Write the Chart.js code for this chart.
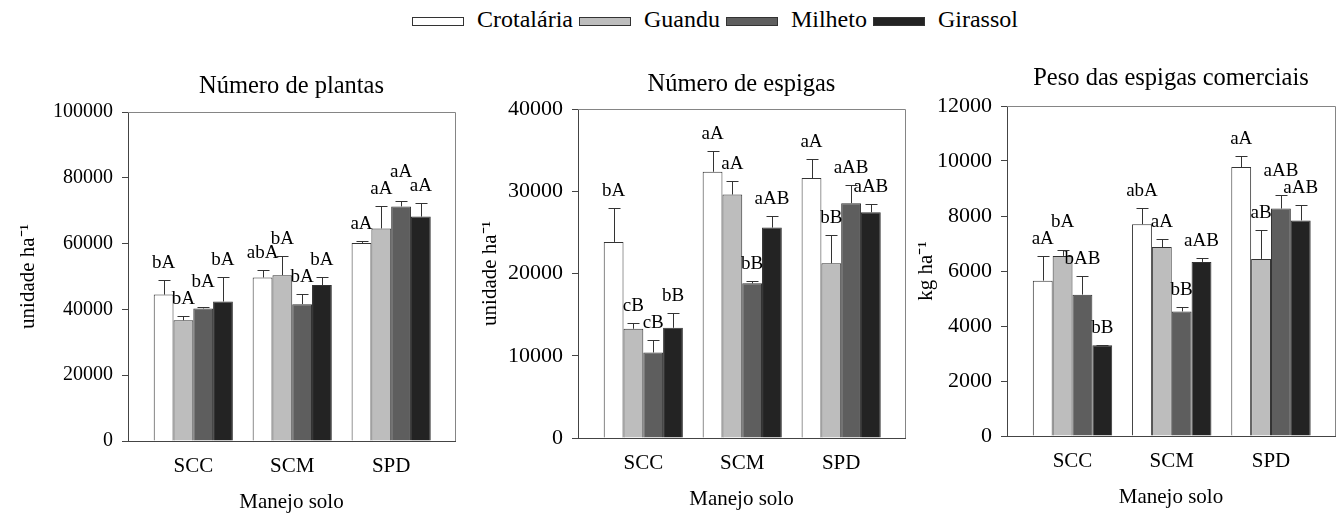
<!DOCTYPE html>
<html>
<head>
<meta charset="utf-8">
<script src="https://cdn.jsdelivr.net/npm/chart.js@4.4.0/dist/chart.umd.min.js"></script>
<style>
  body { margin: 0; background: #fff; width: 1341px; height: 516px; position: relative; overflow: hidden;
         font-family: "Liberation Serif", "Times New Roman", serif; }
  .legend { position: absolute; left: 412px; top: 6px; display: flex; align-items: center; font-size: 24px; color: #000; white-space: nowrap; }
  .legend .item { display: flex; align-items: center; margin-right: 6px; }
  .legend .sw { width: 50px; height: 7px; border: 1px solid #333; margin-right: 13px; margin-top: 3px; }
  canvas { position: absolute; }
</style>
</head>
<body>
<div class="legend" id="legend"></div>
<canvas id="c1"></canvas>
<canvas id="c2"></canvas>
<canvas id="c3"></canvas>
<script>
const categories = ['SCC', 'SCM', 'SPD'];
const series = ['Crotalária', 'Guandu', 'Milheto', 'Girassol'];
const seriesColors = ['#ffffff', '#bdbdbd', '#5e5e5e', '#232323'];

// Número de plantas (rows = series, cols = categories)
const plantasMean = [
  [44500, 49700, 60200],
  [36700, 50400, 64600],
  [40300, 41600, 71300],
  [42400, 47400, 68200]
];
const plantasErr = [
  [4300, 2300, 500],
  [1400, 5700, 6900],
  [500, 3200, 1800],
  [7600, 2500, 4200]
];
const plantasLetters = [
  ['bA', 'abA', 'aA'],
  ['bA', 'bA', 'aA'],
  ['bA', 'bA', 'aA'],
  ['bA', 'bA', 'aA']
];
const plantasTicks = [0, 20000, 40000, 60000, 80000, 100000];

// Número de espigas
const espigasMean = [
  [23840, 32370, 31600],
  [13280, 29600, 21240],
  [10400, 18800, 28550],
  [13400, 25580, 27450]
];
const espigasErr = [
  [4100, 2470, 2300],
  [720, 1590, 3490],
  [1500, 290, 2190],
  [1750, 1420, 1020]
];
const espigasLetters = [
  ['bA', 'aA', 'aA'],
  ['cB', 'aA', 'bB'],
  ['cB', 'bB', 'aAB'],
  ['bB', 'aAB', 'aAB']
];
const espigasTicks = [0, 10000, 20000, 30000, 40000];

// Peso das espigas comerciais
const pesoMean = [
  [5650, 7700, 9780],
  [6550, 6870, 6440],
  [5140, 4530, 8270],
  [3300, 6330, 7840]
];
const pesoErr = [
  [880, 590, 400],
  [230, 280, 1060],
  [680, 160, 480],
  [20, 140, 570]
];
const pesoLetters = [
  ['aA', 'abA', 'aA'],
  ['bA', 'aA', 'aB'],
  ['bAB', 'bB', 'aAB'],
  ['bB', 'aAB', 'aAB']
];
const pesoTicks = [0, 2000, 4000, 6000, 8000, 10000, 12000];

const FONT = '"Liberation Serif", "Times New Roman", serif';
Chart.defaults.font.family = FONT;
Chart.defaults.color = '#000';

// html legend
const legendEl = document.getElementById('legend');
series.forEach((name, i) => {
  const item = document.createElement('div');
  item.className = 'item';
  const sw = document.createElement('div');
  sw.className = 'sw';
  sw.style.background = seriesColors[i];
  const txt = document.createElement('span');
  txt.textContent = name;
  item.appendChild(sw);
  item.appendChild(txt);
  legendEl.appendChild(item);
});

// error bars + significance letters
const errorBars = {
  id: 'errorBars',
  afterDatasetsDraw(chart) {
    const ctx = chart.ctx;
    const yScale = chart.scales.y;
    const area = chart.chartArea;
    ctx.save();
    ctx.strokeStyle = '#333';
    ctx.lineWidth = 1;
    const tops = [];
    chart.data.datasets.forEach((ds, di) => {
      const meta = chart.getDatasetMeta(di);
      tops[di] = [];
      meta.data.forEach((bar, i) => {
        const x = Math.round(bar.x) + 0.5;
        const yBar = yScale.getPixelForValue(ds.data[i].y);
        const yTop = yScale.getPixelForValue(ds.data[i].y + ds.err[i]);
        tops[di][i] = { x: bar.x, y: yTop };
        ctx.beginPath();
        ctx.moveTo(x, yBar);
        ctx.lineTo(x, Math.round(yTop) + 0.5);
        ctx.moveTo(x - 6, Math.round(yTop) + 0.5);
        ctx.lineTo(x + 6, Math.round(yTop) + 0.5);
        ctx.stroke();
      });
    });

    // frame (top and right)
    ctx.strokeStyle = '#858585';
    ctx.beginPath();
    ctx.moveTo(area.left, Math.round(area.top) + 0.5);
    ctx.lineTo(Math.round(area.right) + 0.5, Math.round(area.top) + 0.5);
    ctx.lineTo(Math.round(area.right) + 0.5, area.bottom);
    ctx.stroke();

    // letters: lowest first, higher ones pushed up when they collide
    ctx.font = '19px ' + FONT;
    ctx.fillStyle = '#000';
    ctx.textAlign = 'center';
    ctx.textBaseline = 'alphabetic';
    const H = 13;
    const nCat = chart.data.datasets[0].data.length;
    for (let i = 0; i < nCat; i++) {
      const items = chart.data.datasets.map((ds, di) => {
        const text = ds.letters[i];
        const w = ctx.measureText(text).width;
        const p = tops[di][i];
        return { text, x: p.x, w, yb: p.y - 12 };
      });
      items.sort((a, b) => b.yb - a.yb);
      const placed = [];
      items.forEach(it => {
        let moved = true;
        while (moved) {
          moved = false;
          for (const q of placed) {
            const l = it.x - it.w / 2, r = it.x + it.w / 2, t = it.yb - H;
            if (l < q.r && r > q.l && t < q.b && it.yb > q.t) {
              it.yb = q.t - 4;
              moved = true;
            }
          }
        }
        placed.push({ l: it.x - it.w / 2, r: it.x + it.w / 2, t: it.yb - H, b: it.yb });
        ctx.fillText(it.text, it.x, it.yb);
      });
    }
    ctx.restore();
  }
};

function makePanel(id, cfg) {
  const cv = document.getElementById(id);
  cv.width = cfg.w; cv.height = cfg.h;
  cv.style.left = cfg.left + 'px';
  cv.style.top = cfg.top + 'px';
  const datasets = series.map((name, si) => ({
    label: name,
    data: categories.map((c, ci) => ({ x: ci, y: cfg.mean[si][ci] })),
    err: cfg.err[si],
    letters: cfg.letters[si],
    backgroundColor: seriesColors[si],
    borderColor: '#333',
    borderWidth: 1,
    barPercentage: 1,
    categoryPercentage: 0.8
  }));
  return new Chart(cv, {
    type: 'bar',
    data: { datasets },
    options: {
      responsive: false,
      animation: false,
      layout: { padding: { left: 0, right: cfg.padRight, top: 0, bottom: 0 } },
      plugins: {
        legend: { display: false },
        tooltip: { enabled: false },
        title: {
          display: true,
          text: cfg.title,
          fullSize: false,
          color: '#000',
          font: { size: 24.5, weight: 'normal' },
          padding: { top: 6, bottom: cfg.titleGap }
        }
      },
      scales: {
        x: {
          type: 'linear',
          min: -0.66,
          max: 2.645,
          offset: false,
          grid: { display: false, drawTicks: false },
          border: { color: '#444', width: 1 },
          afterBuildTicks: s => { s.ticks = categories.map((c, i) => ({ value: i })); },
          afterFit: s => { s.height = 75; },
          ticks: {
            autoSkip: false,
            maxRotation: 0,
            padding: 12.4,
            color: '#000',
            font: { size: 21 },
            callback: v => categories[v] ?? ''
          },
          title: {
            display: true,
            text: 'Manejo solo',
            color: '#000',
            font: { size: 21 },
            padding: { top: 0, bottom: 1.4 }
          }
        },
        y: {
          min: 0,
          max: cfg.ticks[cfg.ticks.length - 1],
          afterBuildTicks: s => { s.ticks = cfg.ticks.map(v => ({ value: v })); },
          afterFit: s => { s.width = cfg.yWidth; },
          grid: { drawOnChartArea: false, drawTicks: true, tickLength: 6, color: '#444' },
          border: { color: '#444', width: 1 },
          ticks: {
            padding: 9,
            color: '#000',
            font: { size: cfg.tickSize },
            callback: v => String(v)
          },
          title: {
            display: true,
            text: cfg.yTitle,
            color: '#000',
            font: { size: 21 },
            padding: { top: 4, bottom: 0 }
          }
        }
      }
    },
    plugins: [errorBars]
  });
}

makePanel('c1', {
  left: 12, top: 66, w: 451, h: 450, padRight: 8, yWidth: 116, titleGap: 10.6, tickSize: 20,
  title: 'Número de plantas', yTitle: 'unidade ha⁻¹',
  mean: plantasMean, err: plantasErr, letters: plantasLetters, ticks: plantasTicks
});
makePanel('c2', {
  left: 474, top: 64, w: 436, h: 449, padRight: 5, yWidth: 104, titleGap: 9.6, tickSize: 22,
  title: 'Número de espigas', yTitle: 'unidade ha⁻¹',
  mean: espigasMean, err: espigasErr, letters: espigasLetters, ticks: espigasTicks
});
makePanel('c3', {
  left: 910, top: 58, w: 431, h: 453, padRight: 6, yWidth: 97, titleGap: 12.6, tickSize: 22,
  title: 'Peso das espigas comerciais', yTitle: 'kg ha⁻¹',
  mean: pesoMean, err: pesoErr, letters: pesoLetters, ticks: pesoTicks
});
</script>
</body>
</html>
